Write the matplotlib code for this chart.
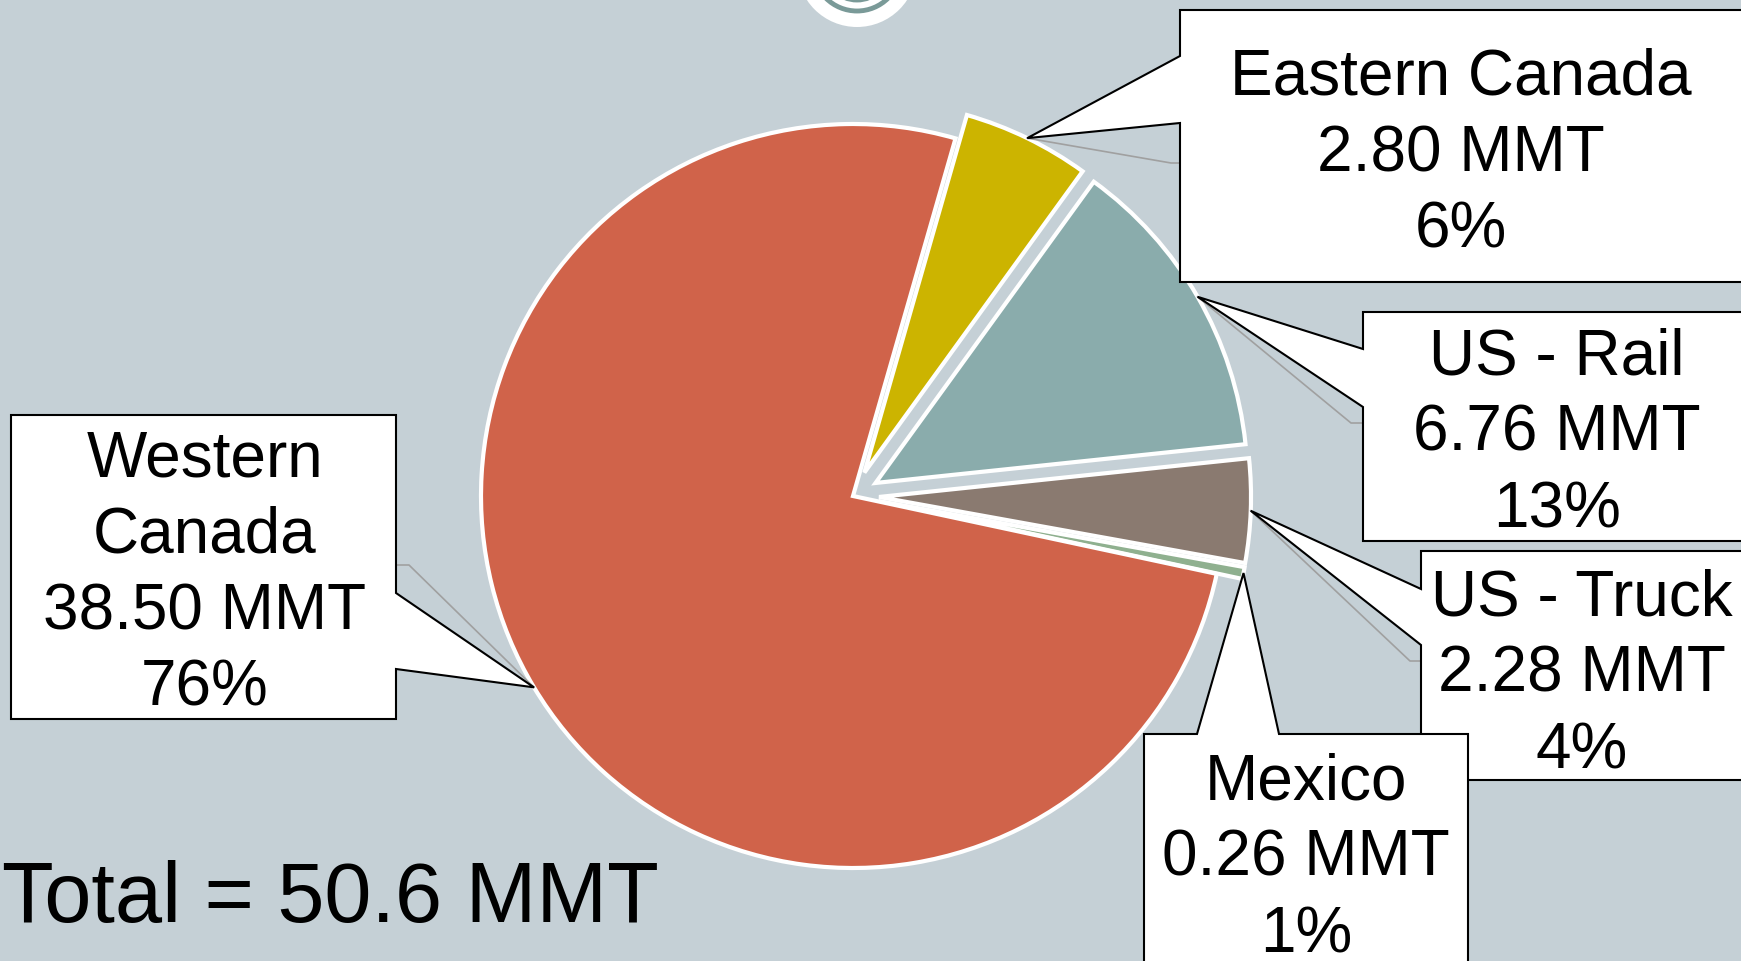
import numpy as np
import matplotlib.pyplot as plt
from matplotlib.patches import Polygon, Circle

plt.rcParams['font.family'] = ['Liberation Sans', 'DejaVu Sans']

# exports by destination, MMT (clockwise from the top)
regions = ['Eastern Canada', 'US - Rail', 'US - Truck', 'Mexico', 'Western\nCanada']
volumes = [2.80, 6.76, 2.28, 0.26, 38.50]
pct_labels = ['6%', '13%', '4%', '1%', '76%']
colors = ['#CCB400', '#8AACAC', '#8A7A70', '#8FB08F', '#D0634A']
explode_frac = [0.07, 0.07, 0.07, 0.07, 0.0]

# callout layout in pixels (y down): box, side of pointer, pointer base, grey elbow, text centre
boxes = [(1180, 11, 1760, 283), (1363, 313, 1760, 542), (1421, 552, 1760, 781),
         (1144, 735, 1468, 1000), (11, 416, 396, 720)]
sides = ['left', 'left', 'left', 'top', 'right']
bases = [(57, 124), (350, 408), (590, 646), (1197, 1279), (594, 670)]
elbows = [(1171, 164), (1351, 424), (1410, 662), None, (409, 566)]
text_pos = [(1461, 154), (1557, 434), (1582, 675), (1306, 859), (205, 574)]

W, H = 1741, 962
bg = '#C5D0D6'
R = 372
fig = plt.figure(figsize=(W / 100, H / 100), dpi=100)
fig.patch.set_facecolor(bg)
ax = fig.add_axes([0, 0, 1, 1])

# y axis points down, so counterclock=True runs clockwise on screen
# (pie's explode is in data units, so scale it by the radius)
wedges, _ = ax.pie(volumes, colors=colors, explode=[e * R for e in explode_frac],
                   startangle=-74, counterclock=True, center=(853, 497), radius=R,
                   wedgeprops=dict(edgecolor='white', linewidth=3))
ax.set_xlim(0, W)
ax.set_ylim(H, 0)
ax.set_aspect('equal')
ax.axis('off')


def tip_of(w):
    a = np.deg2rad((w.theta1 + w.theta2) / 2)
    cx, cy = w.center
    return cx + w.r * np.cos(a), cy + w.r * np.sin(a)


def callout(box, side, base, tip):
    x0, y0, x1, y1 = box
    a, b = base
    if side == 'left':
        pts = [(x0, y0), (x1, y0), (x1, y1), (x0, y1), (x0, b), tip, (x0, a)]
    elif side == 'right':
        pts = [(x0, y0), (x1, y0), (x1, a), tip, (x1, b), (x1, y1), (x0, y1)]
    else:
        pts = [(x0, y0), (a, y0), tip, (b, y0), (x1, y0), (x1, y1), (x0, y1)]
    ax.add_patch(Polygon(pts, closed=True, fc='white', ec='black', lw=1.5, zorder=4))


for i, w in enumerate(wedges):
    tip = tip_of(w)
    if elbows[i] is not None:
        ex, ey = elbows[i]
        edge_x = boxes[i][0] if sides[i] == 'left' else boxes[i][2]
        ax.plot([tip[0], ex, edge_x], [tip[1], ey, ey], color='#A0A0A0', lw=1.2, zorder=3)
    callout(boxes[i], sides[i], bases[i], tip)
    label = f'{regions[i]}\n{volumes[i]:.2f} MMT\n{pct_labels[i]}'
    ax.text(text_pos[i][0], text_pos[i][1], label, ha='center', va='center',
            fontsize=46, linespacing=1.35, zorder=5)

ax.text(2, 922, f'Total = {round(sum(volumes), 1)} MMT', ha='left', va='baseline',
        fontsize=61, zorder=5)

# logo peeking in at the top
ax.add_patch(Circle((857, -32), 60, fc='white', ec='none', zorder=5))
for r in [44, 33]:
    ax.add_patch(Circle((857, -32), r, fill=False, ec='#7A9A98', lw=3.5, zorder=6))

fig.savefig('out.png', dpi=100, facecolor=bg)
